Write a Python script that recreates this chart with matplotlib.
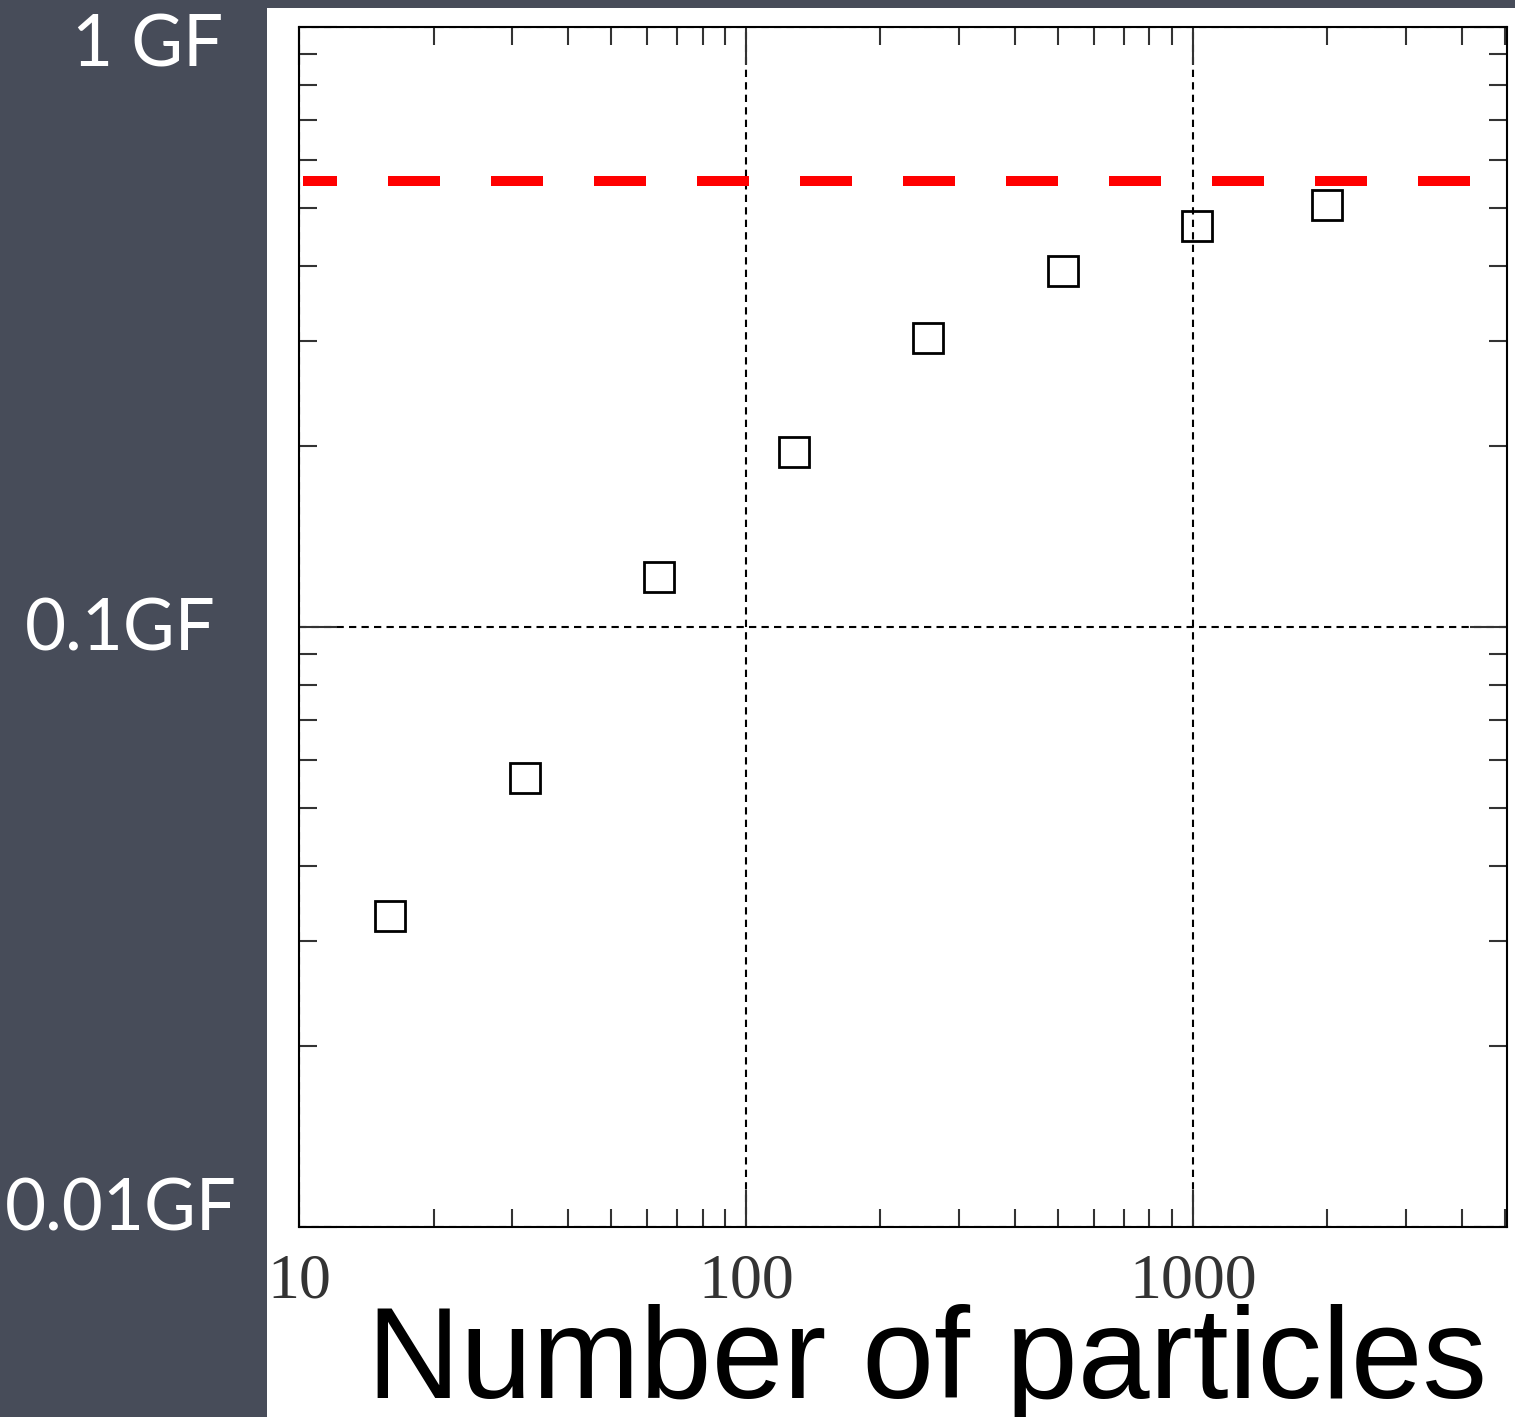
import matplotlib
matplotlib.use("Agg")
import matplotlib.pyplot as plt
import matplotlib.transforms as mtransforms
from matplotlib.patches import Rectangle

# data
particles = [16, 32, 64, 128, 256, 512, 1024, 2000]
gflops = [0.033, 0.056, 0.121, 0.196, 0.303, 0.392, 0.466, 0.505]
peak = 0.554

x_ticks = [10, 100, 1000]
x_tick_labels = ["10", "100", "1000"]
y_ticks = [1, 0.1, 0.01]
y_tick_labels = ["1 GF", "0.1GF", "0.01GF"]

W, H = 1515, 1417
fig = plt.figure(figsize=(W / 100, H / 100), dpi=100, facecolor="#474c59")

# white slide panel behind the plot
fig.patches.append(Rectangle((267 / W, 0), (W - 267) / W, 1 - 8 / H,
                             transform=fig.transFigure, facecolor="white",
                             edgecolor="none", zorder=-1))

ax = fig.add_axes([299 / W, 1 - 1227 / H, (1507 - 299) / W, 1200 / H])
ax.set_zorder(1)
ax.set_xscale("log")
ax.set_yscale("log")
ax.set_xlim(10, 5050)
ax.set_ylim(0.01, 1)

ax.grid(which="major", color="black", linestyle=(0, (3.5, 2.5)), linewidth=1.5)

ax.plot(particles, gflops, linestyle="none", marker="s", markersize=21,
        markerfacecolor="none", markeredgecolor="black", markeredgewidth=2, zorder=3)

ax.axhline(peak, xmin=0.003, xmax=0.972, color="red", linewidth=7.2,
           linestyle=(1.8, (5.2, 5.1)), zorder=4)

for s in ax.spines.values():
    s.set_linewidth(1.5)
    s.set_color("black")

ax.set_xticks(x_ticks)
ax.set_xticklabels(x_tick_labels, family="Liberation Serif", fontsize=46, color="#333333")
ax.set_yticks(y_ticks)
ax.set_yticklabels([])
ax.tick_params(which="both", direction="in", top=True, right=True, width=1.5, color="#333333")
ax.tick_params(which="major", length=27)
ax.tick_params(which="minor", length=13)
ax.tick_params(axis="x", which="major", pad=19)
ax.tick_params(axis="y", which="minor", labelleft=False)
ax.tick_params(axis="x", which="minor", labelbottom=False)

# y labels sit on the dark background, left of the panel
right_edges = [223, 216, 237]
shifts = [-19, -3, 17]
for val, lab, xr, dy in zip(y_ticks, y_tick_labels, right_edges, shifts):
    tr = mtransforms.blended_transform_factory(fig.transFigure, ax.transData)
    tr = tr + mtransforms.ScaledTranslation(0, dy / 100, fig.dpi_scale_trans)
    ax.text(xr / W, val, lab, transform=tr, ha="right", va="center",
            family="Lato", fontsize=51, color="white", clip_on=False)

fig.text(927 / W, 1 - 1398 / H, "Number of particles", ha="center", va="baseline",
         family="Liberation Sans", fontsize=93, color="black")

fig.savefig("out.png", dpi=100, facecolor=fig.get_facecolor())
